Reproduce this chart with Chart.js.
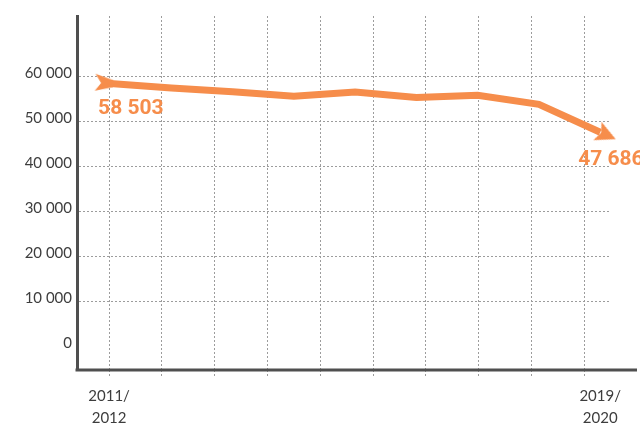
<!DOCTYPE html>
<html>
<head>
<meta charset="utf-8">
<title>Chart</title>
<script src="https://cdn.jsdelivr.net/npm/chart.js@4.4.1/dist/chart.umd.min.js"></script>
<style>
  html, body { margin: 0; padding: 0; background: #ffffff; }
  canvas { display: block; }
</style>
</head>
<body>
<canvas id="chart" width="640" height="424"></canvas>
<script>
// data
const years = ['2011/2012', '2012/2013', '2013/2014', '2014/2015', '2015/2016',
               '2016/2017', '2017/2018', '2018/2019', '2019/2020'];
const students = [58503, 57500, 56700, 55700, 56600, 55400, 55900, 53900, 47686];
const yTicks = [0, 10000, 20000, 30000, 40000, 50000, 60000];

// look
const orange = '#f68d4b';
const gridColor = '#9c9c9c';
const axisColor = '#4f4f4f';
const textColor = '#3d3d3d';
const tickFont = { family: 'Lato', size: 15, lineHeight: '22px' };

// the dotted verticals don't sit on the years, they have their own spacing
const vLineCount = 10;
const vLineStart = -0.016;
const vLineStep = 0.862;

function fmt(v) {
    return String(v).replace(/\B(?=(\d{3})+(?!\d))/g, ' ');
}

function splitYear(y) {
    return [y.slice(0, 5), y.slice(5)];
}

function makeHead() {
    const c = document.createElement('canvas');
    c.width = 44; c.height = 44;
    const g = c.getContext('2d');
    g.fillStyle = orange;
    g.beginPath();
    g.moveTo(22 + 17, 22);
    g.lineTo(22 - 3, 22 - 10);
    g.lineTo(22 + 1, 22);
    g.lineTo(22 - 3, 22 + 10);
    g.closePath();
    g.fill();
    return c;
}

function makeTail() {
    const c = document.createElement('canvas');
    c.width = 40; c.height = 40;
    const g = c.getContext('2d');
    g.fillStyle = orange;
    g.beginPath();
    g.moveTo(20 - 15, 20 - 9);
    g.lineTo(20 + 3, 20 - 3.5);
    g.lineTo(20 + 3, 20 + 3.5);
    g.lineTo(20 - 15, 20 + 8);
    g.lineTo(20 - 9, 20);
    g.closePath();
    g.fill();
    return c;
}

const last = students.length - 1;
const pointStyles = students.map((v, i) => i === 0 ? makeTail() : (i === last ? makeHead() : 'circle'));
const pointRadii = students.map((v, i) => (i === 0 || i === last) ? 4 : 0);
const pointRotations = students.map((v, i) => i === 0 ? 3 : (i === last ? 24 : 0));

// x axis line runs past the grid, plus the two value labels
const extras = {
    id: 'extras',
    beforeDatasetsDraw(chart) {
        const ctx = chart.ctx;
        const a = chart.chartArea;
        ctx.save();
        ctx.strokeStyle = axisColor;
        ctx.lineWidth = 3;
        ctx.beginPath();
        ctx.moveTo(a.left - 1.5, a.bottom);
        ctx.lineTo(637, a.bottom);
        ctx.stroke();
        ctx.restore();
    },
    afterDatasetsDraw(chart) {
        const ctx = chart.ctx;
        const pts = chart.getDatasetMeta(0).data;
        ctx.save();
        ctx.fillStyle = orange;
        ctx.font = 'bold 21px Roboto';
        ctx.textAlign = 'left';
        ctx.textBaseline = 'alphabetic';
        ctx.fillText(fmt(students[0]), pts[0].x - 12, pts[0].y + 30);
        ctx.fillText(fmt(students[last]), pts[last].x - 22, pts[last].y + 33);
        ctx.restore();
    }
};

new Chart(document.getElementById('chart'), {
    type: 'line',
    data: {
        datasets: [{
            data: students.map((v, i) => ({ x: i, y: v })),
            borderColor: orange,
            backgroundColor: orange,
            borderWidth: 7,
            tension: 0,
            fill: false,
            clip: false,
            pointStyle: pointStyles,
            pointRadius: pointRadii,
            pointRotation: pointRotations,
            pointBorderWidth: 0
        }]
    },
    options: {
        responsive: false,
        animation: false,
        events: [],
        layout: { padding: { top: 16, right: 30, left: 0, bottom: 0 } },
        plugins: {
            legend: { display: false },
            tooltip: { enabled: false }
        },
        scales: {
            x: {
                type: 'linear',
                min: -0.54,
                max: 8.16,
                afterBuildTicks: function(scale) {
                    const t = [];
                    for (let k = 0; k < vLineCount; k++) t.push({ value: vLineStart + k * vLineStep });
                    t.push({ value: last });
                    scale.ticks = t;
                },
                afterFit: function(scale) { scale.height = 54; },
                grid: {
                    color: c => (c.tick && c.tick.value === last) ? 'rgba(0,0,0,0)' : gridColor,
                    tickColor: c => (c.tick && c.tick.value === last) ? 'rgba(0,0,0,0)' : gridColor,
                    lineWidth: 1,
                    tickLength: 8,
                    tickBorderDash: [2, 2]
                },
                border: { display: false, dash: [2, 2] },
                ticks: {
                    autoSkip: false,
                    maxRotation: 0,
                    padding: 7,
                    color: textColor,
                    font: tickFont,
                    callback: function(value, index) {
                        if (index === 0) return splitYear(years[0]);
                        if (value === last) return splitYear(years[last]);
                        return '';
                    }
                }
            },
            y: {
                min: -5100,
                max: 73500,
                afterBuildTicks: function(scale) {
                    scale.ticks = yTicks.map(v => ({ value: v }));
                },
                afterFit: function(scale) { scale.width = 77; },
                grid: {
                    color: c => (c.tick && c.tick.value === 0) ? 'rgba(0,0,0,0)' : gridColor,
                    lineWidth: 1,
                    drawTicks: false
                },
                border: { display: true, color: axisColor, width: 3, dash: [2, 2] },
                ticks: {
                    padding: 5,
                    labelOffset: -4,
                    color: textColor,
                    font: tickFont,
                    callback: v => fmt(v)
                }
            }
        }
    },
    plugins: [extras]
});
</script>
</body>
</html>
